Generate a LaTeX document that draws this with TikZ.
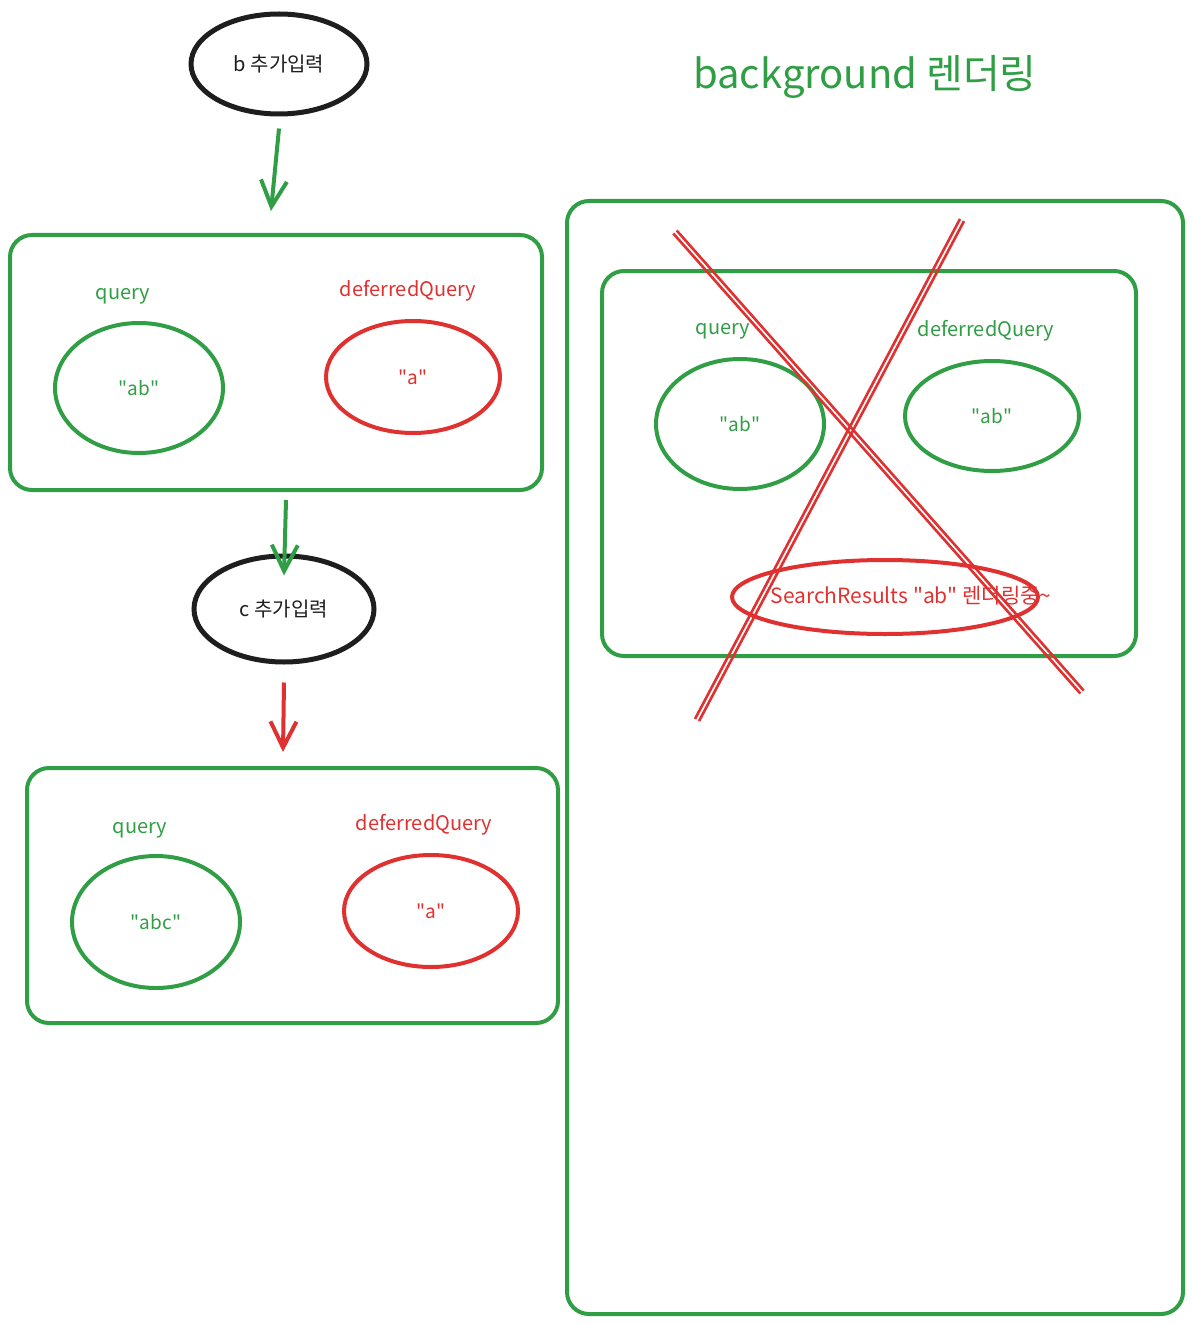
\documentclass[tikz,border=0pt]{standalone}
\usepackage{fontspec}
\setmainfont{Noto Sans CJK KR}
\usepackage{xcolor}
\usetikzlibrary{shapes.geometric,arrows.meta,calc}

\definecolor{exgreen}{HTML}{2F9E44}
\definecolor{exred}{HTML}{E03131}
\definecolor{exblack}{HTML}{1E1E1E}

\newcommand{\qt}[1]{\textquotedbl#1\textquotedbl}

\tikzset{
  statebox/.style={draw=exgreen, line width=4pt, rounded corners=22pt},
  valring/.style={ellipse, draw=#1, line width=4pt, text=#1, font=\fontsize{19}{22}\selectfont, inner sep=0pt},
  inputring/.style={ellipse, draw=exblack, line width=5pt, text=exblack, font=\fontsize{20}{24}\selectfont, inner sep=0pt},
  varlabel/.style={text=#1, font=\fontsize{20}{24}\selectfont, inner sep=0pt},
  flow/.style={draw=#1, line width=4pt, -{Straight Barb[length=26pt,width=26pt,line width=4pt]}},
  crossline/.style={draw=exred, line width=2.6pt},
}

\begin{document}
\begin{tikzpicture}[x=1pt,y=-1pt]
  \useasboundingbox (0,0) rectangle (1192,1324);

  % left column
  \node[inputring, minimum width=176pt, minimum height=100pt] at (279,64) (in1) {b 추가입력};
  \draw[statebox] (10,235) rectangle (542,490);
  \coordinate (state1) at (271,235);
  \coordinate (state1b) at (286,490);
  \node[varlabel=exgreen] at (123,296) (q1) {query};
  \node[valring=exgreen, minimum width=168pt, minimum height=130pt] at (139,388) (qv1) {\qt{ab}};
  \node[varlabel=exred] at (408,291) (d1) {deferredQuery};
  \node[valring=exred, minimum width=174pt, minimum height=112pt] at (413,377) (dv1) {\qt{a}};

  \node[inputring, minimum width=180pt, minimum height=106pt] at (284,609) (in2) {c 추가입력};

  \draw[statebox] (27,768) rectangle (558,1023);
  \coordinate (state2) at (283,752);
  \node[varlabel=exgreen] at (140,830) (q2) {query};
  \node[valring=exgreen, minimum width=168pt, minimum height=132pt] at (156,922) (qv2) {\qt{abc}};
  \node[varlabel=exred] at (424,825) (d2) {deferredQuery};
  \node[valring=exred, minimum width=174pt, minimum height=112pt] at (431,911) (dv2) {\qt{a}};

  \draw[flow=exgreen] ([yshift=-12pt]in1.south) -- ([yshift=24pt]state1);
  \draw[flow=exgreen] ([yshift=-10pt]state1b) -- ([yshift=-22pt]in2.north);
  \draw[flow=exred] ([yshift=-18pt]in2.south) -- (state2);

  % right column
  \node[text=exgreen, font=\fontsize{40}{44}\selectfont, inner sep=0pt] at (865,77) (title) {background 렌더링};
  \draw[statebox] (567,201) rectangle (1183,1314);
  \draw[statebox] (602,271) rectangle (1136,656);
  \node[varlabel=exgreen] at (723,331) (q3) {query};
  \node[valring=exgreen, minimum width=168pt, minimum height=130pt] at (740,424) (qv3) {\qt{ab}};
  \node[varlabel=exgreen] at (986,331) (d3) {deferredQuery};
  \node[valring=exgreen, minimum width=174pt, minimum height=110pt] at (992,416) (dv3) {\qt{ab}};
  \node[valring=exred, minimum width=306pt, minimum height=74pt] at (885,597) (sr) {};
  \node[varlabel=exred, font=\fontsize{21}{24}\selectfont] at (911,596) (srtext) {SearchResults \qt{ab} 렌더링중\textasciitilde};

  % red cross
  \foreach \d in {-1,1} {
    \draw[crossline] ($(675,232)+(1.7*\d,-1.5*\d)$) -- ($(1082,692)+(1.7*\d,-1.5*\d)$);
    \draw[crossline] ($(962,220)+(2*\d,1.1*\d)$) -- ($(697,720)+(2*\d,1.1*\d)$);
  }
\end{tikzpicture}
\end{document}
